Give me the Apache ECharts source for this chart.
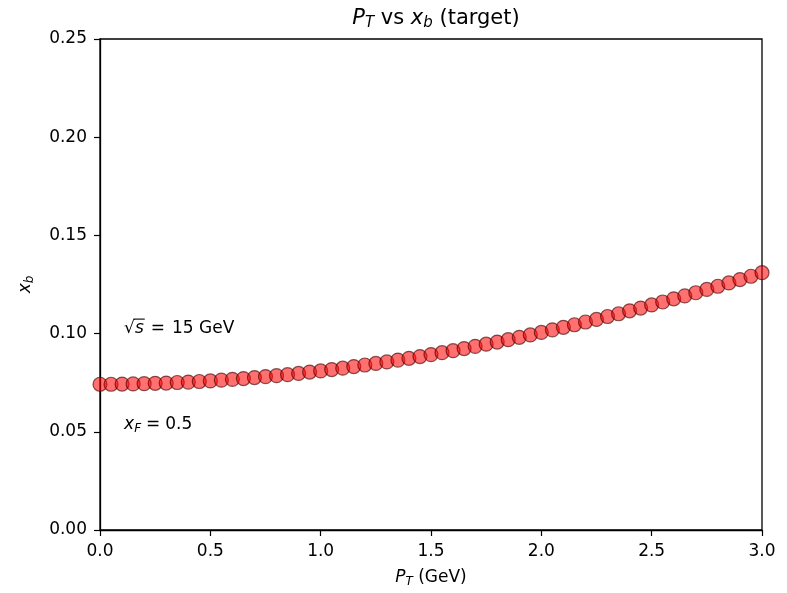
<!DOCTYPE html>
<html>
<head>
<meta charset="utf-8">
<script src="https://cdn.jsdelivr.net/npm/echarts@6/dist/echarts.min.js"></script>
<style>html,body{margin:0;padding:0;background:#fff}#c{width:787px;height:593px}</style>
</head>
<body>
<div id="c"></div>
<script>
var ptValues = [0.00,0.05,0.10,0.15,0.20,0.25,0.30,0.35,0.40,0.45,0.50,0.55,0.60,0.65,0.70,0.75,0.80,0.85,0.90,0.95,1.00,1.05,1.10,1.15,1.20,1.25,1.30,1.35,1.40,1.45,1.50,1.55,1.60,1.65,1.70,1.75,1.80,1.85,1.90,1.95,2.00,2.05,2.10,2.15,2.20,2.25,2.30,2.35,2.40,2.45,2.50,2.55,2.60,2.65,2.70,2.75,2.80,2.85,2.90,2.95,3.00];
var xbValues = [0.0742,0.0742,0.0743,0.0744,0.0745,0.0747,0.0748,0.0751,0.0753,0.0756,0.0759,0.0763,0.0767,0.0771,0.0776,0.0781,0.0786,0.0791,0.0797,0.0804,0.0810,0.0817,0.0824,0.0832,0.0840,0.0848,0.0856,0.0865,0.0874,0.0883,0.0893,0.0903,0.0913,0.0924,0.0935,0.0946,0.0957,0.0969,0.0981,0.0993,0.1006,0.1019,0.1032,0.1045,0.1059,0.1072,0.1087,0.1101,0.1116,0.1130,0.1146,0.1161,0.1177,0.1192,0.1208,0.1225,0.1241,0.1258,0.1275,0.1292,0.1310];
var xTicks = {min: 0, max: 3, interval: 0.5};
var yTicks = {min: 0, max: 0.25, interval: 0.05};
var titleText = '{i|P}{sub|T}{n| vs }{i|x}{sub|b}{n| (target)}';
var xName = '{i|P}{sub|T}{n| (GeV)}';
var yName = '{i|x}{sub|b}';
var annotation1 = {pt: 0.1, xb: 0.1, value: '15 GeV'};
var annotation2 = {pt: 0.1, xb: 0.05, value: '0.5'};

var FONT = 'DejaVu Sans';
var chart = echarts.init(document.getElementById('c'));
function richSet(size, eqPad) {
  var ep = eqPad == null ? Math.round(size*0.28) : eqPad;
  return {
    n: {fontFamily: FONT, fontSize: size, fontWeight: 'normal', color: '#000'},
    i: {fontFamily: FONT, fontSize: size, fontWeight: 'normal', fontStyle: 'italic', color: '#000'},
    eq: {fontFamily: FONT, fontSize: size, fontWeight: 'normal', color: '#000', padding: [0, ep, 0, ep]},
    sub: {fontFamily: FONT, fontSize: Math.round(size * 0.7), fontWeight: 'normal', fontStyle: 'italic', color: '#000', verticalAlign: 'bottom', padding: [Math.round(size*0.45), 0, 0, 0]}
  };
}
var data = ptValues.map(function (p, i) { return [p, xbValues[i]]; });
chart.setOption({
  animation: false,
  backgroundColor: '#fff',
  title: {
    text: titleText, left: 431, top: 2, textAlign: 'center',
    textStyle: {fontWeight: 'normal', rich: richSet(21)}
  },
  grid: {left: 100, right: 25, top: 39, bottom: 62, show: true, borderColor: '#000', borderWidth: 1.3, backgroundColor: 'transparent'},
  xAxis: {
    type: 'value', min: xTicks.min, max: xTicks.max, interval: xTicks.interval,
    name: xName, nameLocation: 'middle', nameGap: 38,
    nameTextStyle: {rich: richSet(17)},
    axisLine: {show: true, onZero: false, lineStyle: {color: '#000', width: 1.3}},
    axisTick: {show: true, length: 6, lineStyle: {color: '#000', width: 1.2}},
    axisLabel: {fontFamily: FONT, fontSize: 17, color: '#000', margin: 13, formatter: function (v) { return v.toFixed(1); }},
    splitLine: {show: false}
  },
  yAxis: {
    type: 'value', min: yTicks.min, max: yTicks.max, interval: yTicks.interval,
    name: yName, nameLocation: 'middle', nameGap: 64, nameRotate: 90,
    nameTextStyle: {rich: richSet(17)},
    axisLine: {show: true, onZero: false, lineStyle: {color: '#000', width: 1.3}},
    axisTick: {show: true, length: 6, lineStyle: {color: '#000', width: 1.2}},
    axisLabel: {fontFamily: FONT, fontSize: 17, color: '#000', margin: 13, formatter: function (v) { return v.toFixed(2); }},
    splitLine: {show: false}
  },
  series: [{
    type: 'scatter', data: data, symbol: 'circle', symbolSize: 14, clip: true,
    itemStyle: {color: 'rgba(255,0,0,0.7)', borderColor: 'rgba(70,0,0,0.8)', borderWidth: 1.2}
  }]
});
var ctx = document.createElement('canvas').getContext('2d');
ctx.font = '17px "DejaVu Sans"';
var sqW = ctx.measureText('√').width;
ctx.font = 'italic 17px "DejaVu Sans"';
var sW = ctx.measureText('s').width;
var p1 = chart.convertToPixel({gridIndex: 0}, [annotation1.pt, annotation1.xb]);
var p2 = chart.convertToPixel({gridIndex: 0}, [annotation2.pt, annotation2.xb]);
var x1 = p1[0] + 2;
chart.setOption({
  graphic: [
    {type: 'text', x: x1, y: p1[1] - 5, style: {text: '{n|√}{i|s}{eq|=}{n|' + annotation1.value + '}', rich: richSet(17, 7), verticalAlign: 'middle'}},
    {type: 'line', shape: {x1: x1 + sqW - 1.5, y1: p1[1] - 14.5, x2: x1 + sqW + sW + 1, y2: p1[1] - 14.5}, style: {stroke: '#000', lineWidth: 1.1}},
    {type: 'text', x: p2[0] + 2, y: p2[1] + 3, style: {text: '{i|x}{sub|F}{eq|=}{n|' + annotation2.value + '}', rich: richSet(17), verticalAlign: 'bottom'}}
  ]
});
</script>
</body>
</html>
